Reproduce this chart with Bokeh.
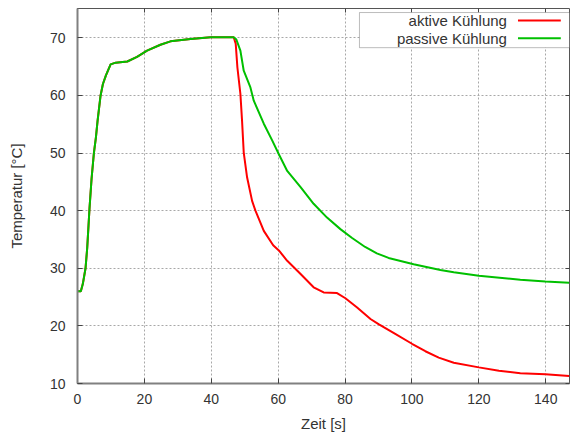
from bokeh.plotting import figure
from bokeh.models import Range1d, FixedTicker, LinearAxis, BoxAnnotation, Label, Arrow
from bokeh.embed import file_html
from bokeh.resources import INLINE

# ---- data ----
t_heat = [0, 1.0, 1.6, 2.4, 2.9, 3.3, 3.6, 4.2, 4.9, 5.5, 6.0, 6.9, 7.6, 8.5, 9.9,
          11.4, 14.9, 17.8, 20.8, 24.8, 27.8, 33.8, 39.8, 46.7]
T_heat = [26.0, 26.0, 27.3, 30.0, 33.5, 37.5, 40.5, 45.5, 50.0, 52.7, 55.6, 60.0, 62.0, 63.5, 65.4,
          65.7, 65.9, 66.7, 67.8, 68.8, 69.4, 69.8, 70.1, 70.1]

t_aktiv_cool = [47.3, 47.8, 48.7, 49.2, 49.7, 50.7, 52.2, 53.2, 55.7, 58.5, 60.2, 62.7, 66.7,
                70.6, 73.6, 77.6, 80.1, 83.6, 87.6, 90.0, 95.0, 100.0, 104.0, 108.0, 112.5,
                120.0, 126.0, 132.4, 139.9, 147.0]
T_aktiv_cool = [69.0, 64.9, 60.3, 55.6, 50.1, 45.8, 41.7, 40.0, 36.5, 34.0, 33.1, 31.3, 29.0,
                26.7, 25.8, 25.7, 24.8, 23.2, 21.2, 20.3, 18.6, 16.9, 15.6, 14.5, 13.6,
                12.8, 12.2, 11.8, 11.6, 11.3]

t_passiv_cool = [47.5, 48.7, 49.7, 51.7, 52.7, 55.7, 58.2, 60.2, 62.7, 66.7, 70.6, 74.6, 78.6,
                 82.0, 86.0, 89.5, 93.0, 100.5, 108.5, 112.5, 120.0, 132.4, 139.9, 147.0]
T_passiv_cool = [69.7, 67.8, 64.3, 61.4, 59.1, 55.1, 52.2, 49.8, 46.9, 44.1, 41.2, 38.8, 36.8,
                 35.3, 33.7, 32.6, 31.8, 30.7, 29.7, 29.3, 28.7, 28.0, 27.7, 27.5]

t_aktiv = t_heat + t_aktiv_cool
T_aktiv = T_heat + T_aktiv_cool
t_passiv = t_heat + t_passiv_cool
T_passiv = T_heat + T_passiv_cool

x_ticks = [0, 20, 40, 60, 80, 100, 120, 140]
y_ticks = [10, 20, 30, 40, 50, 60, 70]
series_names = ["aktive Kühlung", "passive Kühlung"]
series_colors = ["#ff0000", "#00c000"]

FONT = "Liberation Sans"
TXT = "#333333"

p = figure(width=570, height=436, output_backend="svg", toolbar_location=None,
           x_range=Range1d(0, 147.1), y_range=Range1d(10, 75.1),
           min_border_left=77, min_border_right=1, min_border_top=8, min_border_bottom=53,
           x_axis_label="Zeit [s]", y_axis_label="Temperatur [°C]")
p.background_fill_color = "white"
p.border_fill_color = "white"
p.outline_line_color = "#555555"
p.outline_line_width = 1

for ax, ticks in ((p.xaxis[0], x_ticks), (p.yaxis[0], y_ticks)):
    ax.ticker = FixedTicker(ticks=ticks)
    ax.minor_tick_line_color = None
    ax.major_tick_in = 5
    ax.major_tick_out = 0
    ax.major_tick_line_color = "#444444"
    ax.axis_line_color = "#808080"
    ax.axis_line_width = 2
    ax.major_label_text_font = FONT
    ax.major_label_text_font_size = "14px"
    ax.major_label_text_color = TXT
    ax.axis_label_text_font = FONT
    ax.axis_label_text_font_size = "15px"
    ax.axis_label_text_font_style = "normal"
    ax.axis_label_text_color = TXT

p.xaxis.major_label_standoff = 10
p.xaxis.axis_label_standoff = 8
p.yaxis.major_label_standoff = 12
p.yaxis.axis_label_standoff = 22

# mirrored ticks (no labels)
top = LinearAxis(ticker=FixedTicker(ticks=x_ticks), major_tick_in=4, major_tick_out=0,
                 minor_tick_line_color=None, axis_line_color=None,
                 major_label_overrides={t: "" for t in x_ticks},
                 major_label_text_font_size="1px", major_label_standoff=0,
                 major_tick_line_color="#444444")
right = LinearAxis(ticker=FixedTicker(ticks=y_ticks), major_tick_in=4, major_tick_out=0,
                   minor_tick_line_color=None, axis_line_color=None,
                   major_label_overrides={t: "" for t in y_ticks},
                   major_label_text_font_size="1px", major_label_standoff=0,
                   major_tick_line_color="#444444")
p.add_layout(top, "above")
p.add_layout(right, "right")

p.xgrid.ticker = FixedTicker(ticks=x_ticks)
p.ygrid.ticker = FixedTicker(ticks=y_ticks)
for g in (p.xgrid[0], p.ygrid[0]):
    g.grid_line_color = "#a8a8a8"
    g.grid_line_dash = "2 2"
    g.grid_line_width = 1

p.line(t_aktiv, T_aktiv, line_color=series_colors[0], line_width=2)
p.line(t_passiv, T_passiv, line_color=series_colors[1], line_width=2)

# gnuplot-style legend (text left, sample right)
leg_box = BoxAnnotation(left=84.3, right=147.1, top=74.4, bottom=68.3,
                        fill_color="white", fill_alpha=1.0, line_color="#222222", line_width=1,
                        level="overlay")
p.add_layout(leg_box)
row_y = [73.0, 69.95]
for name, col, yy in zip(series_names, series_colors, row_y):
    p.add_layout(Label(x=128.4, y=yy, text=name, text_align="right", text_baseline="middle",
                       text_font=FONT, text_font_size="15px", text_color=TXT, level="overlay"))
    p.add_layout(Arrow(x_start=131.7, y_start=yy, x_end=144.5, y_end=yy, end=None,
                       line_color=col, line_width=2, level="overlay"))

open("out.html", "w").write(file_html(p, INLINE))
